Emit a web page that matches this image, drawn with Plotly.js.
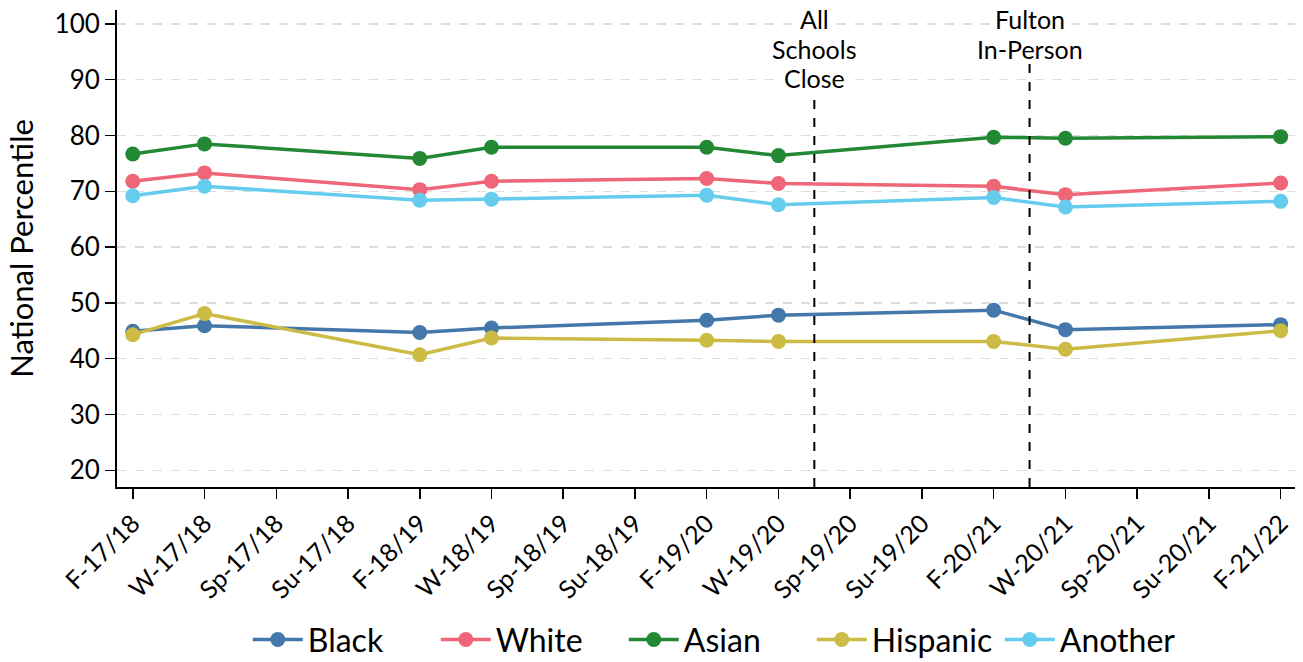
<!DOCTYPE html>
<html>
<head>
<meta charset="utf-8">
<script src="https://cdn.plot.ly/plotly-3.0.1.min.js"></script>
<style>html,body{margin:0;padding:0;background:#fff;}#chart{width:1303px;height:662px;}</style>
</head>
<body>
<div id="chart"></div>
<script>
const categories = ["F-17/18","W-17/18","Sp-17/18","Su-17/18","F-18/19","W-18/19","Sp-18/19","Su-18/19","F-19/20","W-19/20","Sp-19/20","Su-19/20","F-20/21","W-20/21","Sp-20/21","Su-20/21","F-21/22"];
const terms = ["F-17/18","W-17/18","F-18/19","W-18/19","F-19/20","W-19/20","F-20/21","W-20/21","F-21/22"];
const black    = [44.9, 45.9, 44.7, 45.5, 46.9, 47.8, 48.7, 45.2, 46.1];
const white    = [71.8, 73.3, 70.3, 71.8, 72.3, 71.4, 70.9, 69.4, 71.5];
const asian    = [76.7, 78.5, 75.9, 77.9, 77.9, 76.4, 79.7, 79.5, 79.8];
const hispanic = [44.3, 48.1, 40.7, 43.7, 43.3, 43.1, 43.1, 41.7, 45.0];
const another  = [69.2, 70.9, 68.4, 68.6, 69.3, 67.6, 68.9, 67.2, 68.2];
const seriesNames = ["Black","White","Asian","Hispanic","Another"];
const seriesColors = ["#4477AA","#EE6677","#228833","#CCBB44","#66CCEE"];
const seriesData = [black, white, asian, hispanic, another];
const eventPos = [9.5, 12.5];
const eventTop = [88.5, 93.5];
const eventLines = [["All","Schools","Close"], ["Fulton","In-Person"]];

const idx = terms.map(t => categories.indexOf(t));
const FONT = "Lato, 'Open Sans', sans-serif";

const traces = seriesData.map((vals, i) => ({
  type: "scatter",
  mode: "lines+markers",
  name: seriesNames[i],
  x: idx,
  y: vals,
  line: {color: seriesColors[i], width: 3.5},
  marker: {color: seriesColors[i], size: 15}
}));

const shapes = eventPos.map((p, i) => ({
  type: "line", xref: "x", yref: "y",
  x0: p, x1: p, y0: 17, y1: eventTop[i],
  line: {color: "#000", width: 2, dash: "dash"}
}));

const annotations = [];
eventLines.forEach((lines, i) => {
  lines.forEach((txt, j) => {
    annotations.push({
      x: eventPos[i], xref: "x", y: 1, yref: "paper",
      yanchor: "middle", xanchor: "center", yshift: -(9 + 29.5 * j),
      text: txt, showarrow: false, height: 28, valign: "middle",
      font: {family: FONT, size: 25, color: "#000"},
      bgcolor: "#fff", borderpad: 0
    });
  });
});

const layout = {
  width: 1303, height: 662,
  margin: {l: 117, r: 8, t: 10, b: 175, autoexpand: false},
  paper_bgcolor: "#fff", plot_bgcolor: "#fff",
  font: {family: FONT, color: "#000"},
  showlegend: true,
  legend: {orientation: "h", x: 0.51, xanchor: "center", y: -0.32, yanchor: "middle",
           font: {family: FONT, size: 32}, itemwidth: 50, tracegroupgap: 0,
           entrywidth: 123, entrywidthmode: "pixels"},
  xaxis: {
    range: [-0.22, 16.2],
    tickmode: "array",
    tickvals: categories.map((c, i) => i),
    ticktext: categories,
    tickangle: -45,
    ticks: "outside", ticklen: 10, tickwidth: 1.5, tickcolor: "#000",
    showline: true, linecolor: "#000", linewidth: 2,
    showgrid: false, zeroline: false,
    tickfont: {family: FONT, size: 25}
  },
  yaxis: {
    range: [17, 102.5],
    tickmode: "array",
    tickvals: [20,30,40,50,60,70,80,90,100],
    ticks: "outside", ticklen: 10, tickwidth: 1.5, tickcolor: "#000",
    showline: true, linecolor: "#000", linewidth: 2,
    showgrid: true, gridcolor: "#dddddd", griddash: "dash", gridwidth: 1.5,
    zeroline: false,
    tickfont: {family: FONT, size: 26},
    title: {text: "National Percentile", font: {family: FONT, size: 31}, standoff: 12}
  },
  shapes: shapes,
  annotations: annotations
};

Plotly.newPlot("chart", traces, layout, {displayModeBar: false, staticPlot: true});
</script>
</body>
</html>
